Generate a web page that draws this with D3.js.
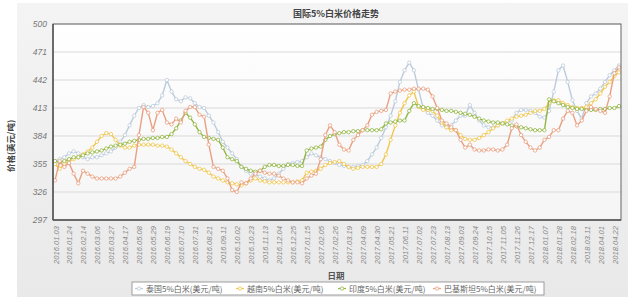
<!DOCTYPE html>
<html><head><meta charset="utf-8">
<script src="https://cdn.jsdelivr.net/npm/d3@7"></script>
<style>body{margin:0;background:#fff}svg{display:block}</style>
</head><body><svg id="c" width="636" height="304"></svg>
<script>
const title = "国际5%白米价格走势";
const yTitle = "价格(美元/吨)";
const xTitle = "日期";
const seriesNames = ["泰国5%白米(美元/吨)","越南5%白米(美元/吨)","印度5%白米(美元/吨)","巴基斯坦5%白米(美元/吨)"];
const seriesColors = ["#bccbdb","#f0c64e","#93b744","#e9a080"];
const yTicks = [297,326,355,384,413,442,471,500];
const xLabels = ["2016.01.03","2016.01.24","2016.02.14","2016.03.06","2016.03.27","2016.04.17","2016.05.08","2016.05.29","2016.06.19","2016.07.10","2016.07.31","2016.08.21","2016.09.11","2016.10.02","2016.10.23","2016.11.13","2016.12.04","2016.12.25","2017.01.15","2017.02.05","2017.02.26","2017.03.19","2017.04.09","2017.04.30","2017.05.21","2017.06.11","2017.07.02","2017.07.23","2017.08.13","2017.09.03","2017.09.24","2017.10.15","2017.11.05","2017.11.26","2017.12.17","2018.01.07","2018.01.28","2018.02.18","2018.03.11","2018.04.01","2018.04.22"];
const thailand = [358,360,362,366,368,366,362,360,362,362,
364,366,368,372,378,385,395,405,413,416,
414,415,418,426,442,430,422,420,424,423,
418,414,413,405,398,388,378,372,366,360,
352,348,345,344,342,340,338,340,345,350,
355,356,357,358,362,366,364,362,360,358,
356,354,353,352,352,353,354,358,365,372,
382,393,405,420,440,452,460,452,432,413,
408,405,400,395,393,395,400,405,405,416,
408,400,395,393,393,395,397,398,400,408,
411,411,410,408,404,403,410,430,452,457,
440,421,410,402,418,425,428,433,440,447,
452,457];
const vietnam = [355,350,355,358,360,362,365,368,372,378,
384,387,386,380,374,372,372,374,375,375,
375,375,374,374,373,370,366,362,358,355,
352,350,349,346,342,340,338,336,335,334,
333,335,338,340,338,337,336,336,336,336,
336,336,337,338,346,347,348,350,354,356,
357,358,355,352,350,351,352,352,352,352,
355,365,380,395,408,418,426,430,414,411,
411,410,405,398,393,390,390,385,381,380,
380,382,385,388,392,395,397,400,402,404,
405,406,408,410,410,412,418,421,421,418,
416,414,413,413,414,418,422,428,435,440,
446,450];
const india = [358,357,358,360,362,362,364,366,367,368,
369,371,373,374,375,376,378,379,380,381,
381,382,382,383,383,386,392,400,408,403,
396,388,383,382,381,380,372,362,360,358,
352,350,348,347,348,352,354,354,353,353,
354,354,353,353,369,371,372,373,380,384,
386,387,388,388,389,389,390,390,390,390,
391,397,398,399,400,400,410,418,415,414,
413,412,412,411,410,410,409,408,407,406,
404,402,400,399,398,398,397,396,395,394,
393,392,391,390,390,390,422,420,418,416,
414,413,412,412,411,411,411,412,412,413,
413,415];
const pakistan = [338,358,352,356,345,335,348,345,342,340,
340,340,340,340,342,346,350,352,385,414,
408,390,408,411,398,396,402,398,410,414,
414,406,404,375,352,350,348,340,328,326,
336,335,340,345,348,346,345,345,343,340,
338,336,336,335,340,343,345,360,385,395,
388,375,370,369,380,385,390,395,406,409,
410,411,428,430,431,432,432,433,433,433,
432,425,413,400,397,393,390,380,372,375,
370,369,369,370,370,369,370,375,392,396,
385,378,372,369,372,380,383,390,390,402,
410,408,395,400,410,414,412,410,408,425,
449,455];
const seriesValues = [thailand, vietnam, india, pakistan];

const svg = d3.select("#c");
const defs = svg.append("defs");
const bg = defs.append("linearGradient").attr("id","bg").attr("x1",0).attr("y1",0).attr("x2",0).attr("y2",1);
bg.append("stop").attr("offset","0%").attr("stop-color","#f4f4f4");
bg.append("stop").attr("offset","100%").attr("stop-color","#e9e9e9");
const pg = defs.append("linearGradient").attr("id","pg").attr("x1",0).attr("y1",0).attr("x2",0).attr("y2",1);
pg.append("stop").attr("offset","0%").attr("stop-color","#ffffff");
pg.append("stop").attr("offset","100%").attr("stop-color","#f5f5f5");

svg.append("rect").attr("x",17).attr("y",3).attr("width",611).attr("height",294).attr("fill","url(#bg)");

const L=53, R=621, T=24, B=220;
const x = d3.scaleLinear().domain([0, thailand.length-1]).range([55, 619]);
const y = d3.scaleLinear().domain([297,500]).range([B,T]);

svg.append("rect").attr("x",L).attr("y",T).attr("width",R-L).attr("height",B-T).attr("fill","url(#pg)");

// grid
svg.append("g").selectAll("line").data(yTicks).join("line")
  .attr("x1",L).attr("x2",R).attr("y1",d=>y(d)).attr("y2",d=>y(d))
  .attr("stroke","#d9d9d9").attr("stroke-width",1);

// y axis
const yAxis = d3.axisLeft(y).tickValues(yTicks).tickSize(0).tickPadding(6);
const gy = svg.append("g").attr("transform",`translate(${L},0)`).call(yAxis);
gy.select(".domain").remove();
gy.selectAll("text").attr("font-family","Liberation Sans, Arial, sans-serif").attr("font-size",8.5)
  .attr("font-style","italic").attr("fill","#777");

// x axis
const xIdx = xLabels.map((d,i)=>i*3);
const xAxis = d3.axisBottom(x).tickValues(xIdx).tickFormat((d,i)=>xLabels[i]).tickSize(0).tickPadding(0);
const gx = svg.append("g").attr("transform",`translate(0,${B})`).call(xAxis);
gx.select(".domain").remove();
gx.selectAll("text").attr("font-family","Liberation Sans, Arial, sans-serif").attr("font-size",7.6)
  .attr("font-style","italic").attr("fill","#888")
  .attr("text-anchor","end").attr("dy",null).attr("y",0)
  .attr("transform","translate(3,6) rotate(-90)");

// series
const line = d3.line().x((d,i)=>x(i)).y(d=>y(d));
seriesValues.forEach((vals,k)=>{
  const g = svg.append("g");
  g.append("path").datum(vals).attr("d",line).attr("fill","none")
    .attr("stroke",seriesColors[k]).attr("stroke-width",1.4).attr("stroke-linejoin","round");
  g.selectAll("circle").data(vals).join("circle")
    .attr("cx",(d,i)=>x(i)).attr("cy",d=>y(d)).attr("r",1.7)
    .attr("fill","#fff").attr("stroke",seriesColors[k]).attr("stroke-width",0.8);
});

// border
svg.append("rect").attr("x",L).attr("y",T).attr("width",R-L).attr("height",B-T)
  .attr("fill","none").attr("stroke","#666").attr("stroke-width",1);
svg.append("line").attr("x1",L).attr("x2",L).attr("y1",T).attr("y2",B).attr("stroke","#555").attr("stroke-width",1.5);
svg.append("line").attr("x1",L).attr("x2",R).attr("y1",B).attr("y2",B).attr("stroke","#555").attr("stroke-width",1.5);

// titles
svg.append("text").attr("x",336).attr("y",17).attr("text-anchor","middle")
  .attr("font-family","Noto Sans CJK SC, sans-serif").attr("font-size",9).attr("font-weight","bold")
  .attr("fill","#444").text(title);
svg.append("text").attr("transform","translate(14,146) rotate(-90)").attr("text-anchor","middle")
  .attr("font-family","Noto Sans CJK SC, sans-serif").attr("font-size",8.5).attr("font-weight","bold")
  .attr("fill","#444").text(yTitle);
svg.append("text").attr("x",336).attr("y",279).attr("text-anchor","middle")
  .attr("font-family","Noto Sans CJK SC, sans-serif").attr("font-size",8.5).attr("font-weight","bold")
  .attr("fill","#555").text(xTitle);

// legend
const lg = svg.append("g");
lg.append("rect").attr("x",132).attr("y",282).attr("width",412).attr("height",13)
  .attr("fill","#fff").attr("stroke","#888").attr("stroke-width",0.8);
const lx = [135,236,338,433];
seriesNames.forEach((n,k)=>{
  lg.append("line").attr("x1",lx[k]).attr("x2",lx[k]+8).attr("y1",288.5).attr("y2",288.5)
    .attr("stroke",seriesColors[k]).attr("stroke-width",1.2);
  lg.append("circle").attr("cx",lx[k]+4).attr("cy",288.5).attr("r",1.7)
    .attr("fill","#fff").attr("stroke",seriesColors[k]).attr("stroke-width",0.8);
  lg.append("text").attr("x",lx[k]+11).attr("y",291.5)
    .attr("font-family","Noto Sans CJK SC, sans-serif").attr("font-size",8).attr("fill","#666").text(n);
});
</script>
</body></html>
